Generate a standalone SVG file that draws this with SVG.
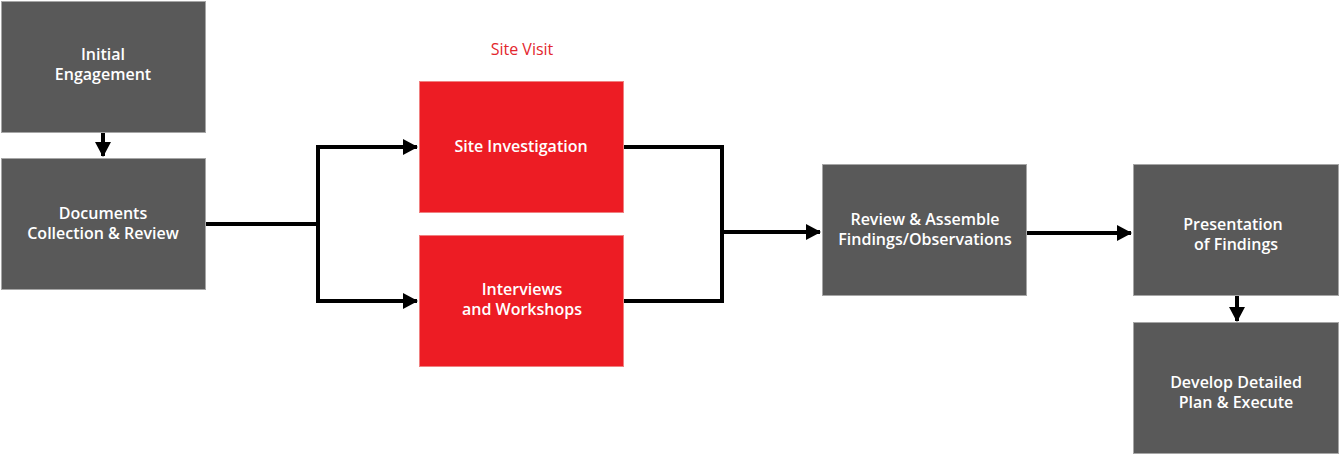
<svg xmlns="http://www.w3.org/2000/svg" width="1340" height="455" viewBox="0 0 1340 455">
<defs>
<style>
.g{fill:#595959;stroke:#a6a6a6;stroke-width:1}
.r{fill:#ED1C24;stroke:#f08080;stroke-width:1}
.t{font-family:"Open Sans","Noto Sans","DejaVu Sans",sans-serif;font-size:16px;font-weight:600;fill:#ffffff;text-anchor:middle}
.c{fill:none;stroke:#000;stroke-width:4}
.lab{font-family:"Open Sans","Noto Sans","DejaVu Sans",sans-serif;font-size:16px;fill:#E3262D;text-anchor:middle}
</style>
<marker id="ah" markerUnits="userSpaceOnUse" markerWidth="16" markerHeight="18" refX="14" refY="9" orient="auto" viewBox="0 0 16 18">
<path d="M0,1 L15,9 L0,17 z" fill="#000"/>
</marker>
</defs>
<rect width="1340" height="455" fill="#fff"/>
<g id="connectors">
<path class="c" d="M103,132 V156" marker-end="url(#ah)"/>
<path class="c" d="M206,224 H318"/>
<path class="c" d="M318,224 V147 H417" marker-end="url(#ah)"/>
<path class="c" d="M318,224 V301 H417" marker-end="url(#ah)"/>
<path class="c" d="M624,147 H722 V301 H624"/>
<path class="c" d="M722,232 H820" marker-end="url(#ah)"/>
<path class="c" d="M1027,233 H1131" marker-end="url(#ah)"/>
<path class="c" d="M1237,296 V321" marker-end="url(#ah)"/>
</g>
<g id="site-visit-label"><text class="lab" x="522" y="55">Site Visit</text></g>
<g id="initial-engagement">
<rect class="g" x="1.5" y="1.5" width="204" height="131"/>
<text class="t" x="103" y="60">Initial</text>
<text class="t" x="103" y="80">Engagement</text>
</g>
<g id="documents-collection">
<rect class="g" x="1.5" y="158.5" width="204" height="131"/>
<text class="t" x="103" y="219">Documents</text>
<text class="t" x="103" y="239">Collection &amp; Review</text>
</g>
<g id="site-investigation">
<rect class="r" x="419.5" y="81.5" width="204" height="131"/>
<text class="t" x="521" y="152">Site Investigation</text>
</g>
<g id="interviews-workshops">
<rect class="r" x="419.5" y="235.5" width="204" height="131"/>
<text class="t" x="522" y="295">Interviews</text>
<text class="t" x="522" y="315">and Workshops</text>
</g>
<g id="review-assemble">
<rect class="g" x="822.5" y="164.5" width="204" height="131"/>
<text class="t" x="925" y="225">Review &amp; Assemble</text>
<text class="t" x="925" y="245">Findings/Observations</text>
</g>
<g id="presentation">
<rect class="g" x="1133.5" y="164.5" width="205" height="131"/>
<text class="t" x="1233" y="230">Presentation</text>
<text class="t" x="1236" y="250">of Findings</text>
</g>
<g id="develop-plan">
<rect class="g" x="1133.5" y="322.5" width="205" height="131"/>
<text class="t" x="1236" y="388">Develop Detailed</text>
<text class="t" x="1236" y="408">Plan &amp; Execute</text>
</g>
</svg>
